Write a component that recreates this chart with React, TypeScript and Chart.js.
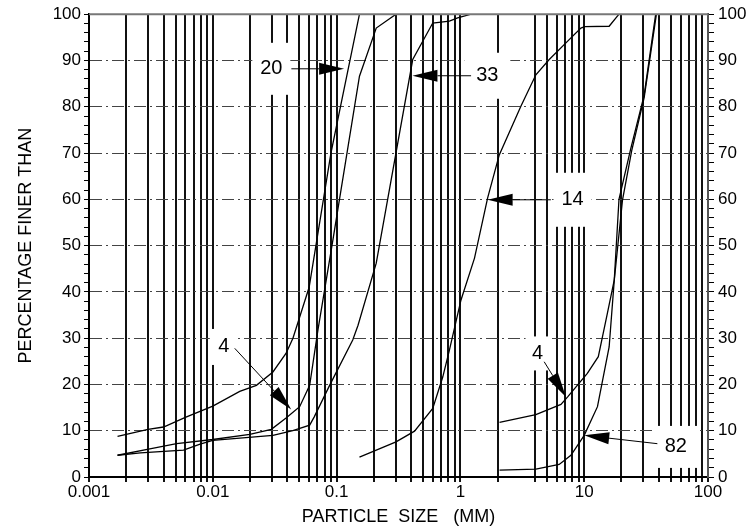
import React, { useEffect, useRef } from 'react';
import { Chart, registerables } from 'chart.js';

Chart.register(...registerables);

// ---- Data (particle size in mm, percentage finer) ----
const s20Size = [0.0017, 0.003, 0.004, 0.006, 0.01, 0.0165, 0.0225, 0.0306, 0.039, 0.0444, 0.06, 0.09, 0.153];
const s20Pct = [8.8, 10.3, 10.8, 12.9, 15.3, 18.5, 19.8, 22.7, 26.7, 30, 41, 70, 100];

const s4fSize = [0.0017, 0.0031, 0.0051, 0.01, 0.0199, 0.0297, 0.0393, 0.0503, 0.0606, 0.0707, 0.0933, 0.153, 0.209, 0.302];
const s4fPct = [4.7, 6.1, 7.2, 8.1, 9.2, 10.3, 12.8, 15.2, 19.8, 31.8, 51.2, 86.6, 97, 100];

const s33Size = [0.0017, 0.0026, 0.0058, 0.0079, 0.01, 0.0306, 0.0443, 0.0606, 0.066, 0.0878, 0.135, 0.149, 0.209, 0.412, 0.598, 0.815, 0.95, 1.22];
const s33Pct = [4.7, 5.2, 5.8, 7.1, 7.9, 9.0, 10.0, 11.2, 13, 19.8, 29.6, 32.8, 46.2, 90.2, 98.1, 98.5, 99.2, 100];

const s14Size = [0.153, 0.302, 0.426, 0.598, 0.72, 0.815, 1.01, 1.3, 1.66, 2.06, 3.08, 4.07, 5.22, 7.12, 9.4, 10.1, 15.9, 19.1];
const s14Pct = [4.3, 7.6, 9.9, 14.8, 21.6, 27.4, 38.2, 47.3, 60.3, 69.6, 80.1, 86.9, 90.2, 93.8, 97, 97.3, 97.4, 100];

const s4cSize = [2.07, 4.07, 6.49, 7.35, 10.6, 13.0, 15.4, 17.5, 19.1, 23.8, 30.5, 37.8];
const s4cPct = [11.8, 13.5, 15.7, 17.3, 22.4, 26.0, 35.4, 42.6, 60, 71, 82.5, 100];

const s82Size = [2.07, 4.07, 6.28, 7.81, 10.0, 12.8, 15.9, 17.5, 20.4, 24.2, 30.5, 38.3];
const s82Pct = [1.5, 1.7, 2.7, 4.7, 9.0, 15.2, 28.1, 42.6, 59.9, 70.5, 82, 100];

// ---- Axis ticks ----
const xDecades = [0.001, 0.01, 0.1, 1, 10, 100];
const xTickLabels = ['0.001', '0.01', '0.1', '1', '10', '100'];
const xMultipliers = [1, 2, 3, 4, 5, 6, 7, 8, 9];
const xMissingGrid = [3]; // grid line absent in the reference
const yTickValues = [0, 10, 20, 30, 40, 50, 60, 70, 80, 90, 100];
const yTickLabels = ['0', '10', '20', '30', '40', '50', '60', '70', '80', '90', '100'];

// ---- Annotations (data coordinates) ----
const annLabel = ['20', '33', '14', '4', '4', '82'];
const annTextX = [0.0297, 1.65, 8.05, 0.01227, 4.2, 54.9];
const annTextY = [88.2, 86.7, 59.9, 28.1, 26.7, 6.5];
const annTailX = [0.0431, 1.22, 5.38, 0.01504, 4.75, 39];
const annTailY = [88.2, 86.7, 59.9, 27.8, 24.9, 7.2];
const annTipX = [0.115, 0.41, 1.66, 0.043, 7.12, 10.0];
const annTipY = [88.2, 86.7, 59.9, 14.6, 17.3, 9.0];
const annBoxW = [38, 46, 38, 28, 24, 46];
const annBoxH = [52, 46, 54, 36, 34, 42];

const FONT = "'Liberation Sans', Arial, Helvetica, sans-serif";

const xGridValues: number[] = [];
xDecades.slice(0, -1).forEach((d) => {
  xMultipliers.forEach((m) => xGridValues.push(parseFloat((m * d).toPrecision(6))));
});
xGridValues.push(100);

const isClose = (a: number, b: number) => Math.abs(a - b) < 1e-9 * Math.max(1, Math.abs(b));

const annotationPlugin = {
  id: 'gradingAnnotations',
  beforeDatasetsDraw(chart: any) {
    const { ctx, scales } = chart;
    const x = scales.x;
    const y = scales.y;
    ctx.save();
    ctx.fillStyle = '#ffffff';
    annLabel.forEach((_, i) => {
      const px = x.getPixelForValue(annTextX[i]);
      const py = y.getPixelForValue(annTextY[i]);
      ctx.fillRect(px - annBoxW[i] / 2, py - annBoxH[i] / 2, annBoxW[i], annBoxH[i]);
    });
    ctx.restore();
  },
  afterDatasetsDraw(chart: any) {
    const { ctx, scales } = chart;
    const x = scales.x;
    const y = scales.y;
    ctx.save();
    ctx.strokeStyle = '#000';
    ctx.fillStyle = '#000';
    ctx.lineWidth = 1;
    annLabel.forEach((label, i) => {
      const x0 = x.getPixelForValue(annTailX[i]);
      const y0 = y.getPixelForValue(annTailY[i]);
      const x1 = x.getPixelForValue(annTipX[i]);
      const y1 = y.getPixelForValue(annTipY[i]);
      const dx = x1 - x0;
      const dy = y1 - y0;
      const len = Math.hypot(dx, dy) || 1;
      const ux = dx / len;
      const uy = dy / len;
      const hl = 25;
      const hw = 6;
      const bx = x1 - ux * hl;
      const by = y1 - uy * hl;
      ctx.beginPath();
      ctx.moveTo(x0, y0);
      ctx.lineTo(bx, by);
      ctx.stroke();
      ctx.beginPath();
      ctx.moveTo(x1, y1);
      ctx.lineTo(bx - uy * hw, by + ux * hw);
      ctx.lineTo(bx + uy * hw, by - ux * hw);
      ctx.closePath();
      ctx.fill();

      ctx.font = `20px ${FONT}`;
      ctx.textAlign = 'center';
      ctx.textBaseline = 'middle';
      ctx.fillText(label, x.getPixelForValue(annTextX[i]), y.getPixelForValue(annTextY[i]));
    });
    ctx.restore();
  },
  afterDraw(chart: any) {
    const { ctx, chartArea } = chart;
    ctx.save();
    ctx.strokeStyle = '#777';
    ctx.lineWidth = 2;
    ctx.beginPath();
    ctx.moveTo(chartArea.left, chartArea.top);
    ctx.lineTo(chartArea.right, chartArea.top);
    ctx.stroke();
    ctx.restore();
  },
};

export default function App() {
  const ref = useRef<HTMLCanvasElement>(null);

  useEffect(() => {
    document.body.style.margin = '0';
    Chart.defaults.font.family = FONT;
    const canvas = ref.current;
    if (!canvas) return;

    const series: [number[], number[]][] = [
      [s20Size, s20Pct],
      [s4fSize, s4fPct],
      [s33Size, s33Pct],
      [s14Size, s14Pct],
      [s4cSize, s4cPct],
      [s82Size, s82Pct],
    ];

    const xHidden = (c: any) => {
      const v = c.tick ? c.tick.value : NaN;
      return xMissingGrid.some((m) => isClose(v, m));
    };
    const yLabel = (v: any) => {
      const idx = yTickValues.findIndex((t) => isClose(Number(v), t));
      return idx >= 0 ? yTickLabels[idx] : '';
    };

    const chart = new Chart(canvas, {
      type: 'line',
      data: {
        datasets: series.map(([xs, ys]) => ({
          data: xs.map((xv, i) => ({ x: xv, y: ys[i] })),
          borderColor: '#000',
          borderWidth: 1.3,
          pointRadius: 0,
          fill: false,
          tension: 0,
        })),
      },
      options: {
        responsive: false,
        animation: false,
        devicePixelRatio: 1,
        layout: { padding: { top: 14, left: 0, right: 0, bottom: 0 } },
        plugins: { legend: { display: false }, tooltip: { enabled: false } },
        scales: {
          x: {
            type: 'logarithmic',
            min: 0.001,
            max: 100,
            position: 'bottom',
            afterBuildTicks: (s: any) => {
              s.ticks = xGridValues.map((v) => ({ value: v }));
            },
            afterFit: (s: any) => {
              s.height = 55;
            },
            ticks: {
              autoSkip: false,
              maxRotation: 0,
              minRotation: 0,
              padding: 0,
              color: '#000',
              font: { size: 17 },
              callback: (v: any) => {
                const idx = xDecades.findIndex((d) => isClose(Number(v), d));
                return idx >= 0 ? xTickLabels[idx] : '';
              },
            },
            grid: {
              color: (c: any) => (xHidden(c) ? 'rgba(0,0,0,0)' : '#111'),
              tickColor: (c: any) => (xHidden(c) ? 'rgba(0,0,0,0)' : '#111'),
              lineWidth: 2,
              tickLength: 5,
            },
            border: { color: '#000', width: 2 },
            title: {
              display: true,
              text: 'PARTICLE  SIZE   (MM)',
              color: '#000',
              font: { size: 18 },
              padding: { top: 0, bottom: 4 },
            },
          },
          y: {
            type: 'linear',
            min: 0,
            max: 100,
            position: 'left',
            afterFit: (s: any) => {
              s.width = 89;
            },
            ticks: {
              stepSize: 2,
              autoSkip: false,
              padding: 3,
              color: '#000',
              font: { size: 17 },
              callback: yLabel,
            },
            grid: {
              color: (c: any) => (c.tick && Number(c.tick.value) % 10 === 0 ? '#444' : 'rgba(0,0,0,0)'),
              tickColor: '#000',
              lineWidth: 1,
              tickWidth: 1,
              tickLength: 5,
            },
            border: { color: '#000', width: 2, dash: [12, 4, 2, 4] },
            title: {
              display: true,
              text: 'PERCENTAGE FINER THAN',
              color: '#000',
              font: { size: 18 },
              padding: { top: 15, bottom: 0 },
            },
          },
          y2: {
            type: 'linear',
            min: 0,
            max: 100,
            position: 'right',
            afterFit: (s: any) => {
              s.width = 47;
            },
            ticks: {
              stepSize: 2,
              autoSkip: false,
              padding: 4,
              color: '#000',
              font: { size: 17 },
              callback: yLabel,
            },
            grid: {
              drawOnChartArea: false,
              color: '#000',
              tickColor: '#000',
              tickWidth: 1,
              tickLength: 6,
            },
            border: { color: '#555', width: 2 },
          },
        },
      } as any,
      plugins: [annotationPlugin],
    });

    return () => chart.destroy();
  }, []);

  return (
    <div style={{ position: 'fixed', left: 0, top: 0, width: 755, height: 532, background: '#fff' }}>
      <canvas ref={ref} width={755} height={532} style={{ display: 'block', width: 755, height: 532 }} />
    </div>
  );
}
